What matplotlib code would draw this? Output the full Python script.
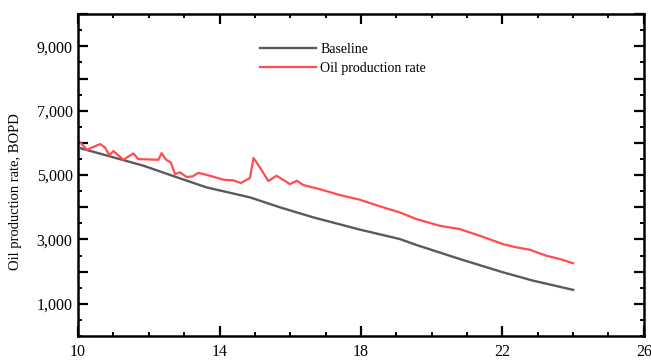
import numpy as np
import matplotlib
matplotlib.use("Agg")
import matplotlib.pyplot as plt
from matplotlib.ticker import MultipleLocator, FuncFormatter

plt.rcParams["font.family"] = "serif"
plt.rcParams["font.serif"] = ["Liberation Serif", "DejaVu Serif"]

# baseline curve (time vs rate)
base_x = [10.08, 10.9, 11.85, 12.88, 13.63, 14.86, 15.71, 16.65, 17.97,
          19.1, 19.57, 20.79, 22.01, 22.86, 24.0]
base_y = [5830, 5580, 5290, 4898, 4618, 4307, 3997, 3686, 3305,
          3012, 2827, 2393, 1981, 1721, 1433]

# oil production rate curve
oil_x = [10.06, 10.25, 10.62, 10.76, 10.88, 11.0, 11.28, 11.56, 11.70, 12.27,
         12.36, 12.49, 12.62, 12.74, 12.88, 13.07, 13.24, 13.4, 13.73, 14.11,
         14.39, 14.6, 14.86, 14.96, 15.14, 15.38, 15.61, 15.99, 16.19,
         16.37, 16.84, 17.40, 17.97, 18.53, 19.1, 19.57, 20.23, 20.79, 21.36,
         22.01, 22.39, 22.77, 23.24, 23.62, 24.0]
oil_y = [6015, 5786, 5963, 5860, 5621, 5745, 5475, 5674, 5497, 5475,
         5683, 5475, 5394, 5031, 5084, 4940, 4960, 5070, 4979, 4855,
         4835, 4752, 4910, 5530, 5239, 4814, 4979, 4720, 4823,
         4689, 4560, 4380, 4233, 4030, 3838, 3632, 3424, 3322, 3115,
         2857, 2755, 2681, 2495, 2393, 2260]

x_ticks = [10, 14, 18, 22, 26]

fig = plt.figure(figsize=(6.51, 3.6), dpi=100)
ax = fig.add_axes([0.12, 0.0667, 0.869, 0.894])

ax.plot(base_x, base_y, color="#5a5a5a", linewidth=1.7, label="Baseline")
ax.plot(oil_x, oil_y, color="#ff4d4d", linewidth=1.6, label="Oil production rate")

ax.set_xlim(10, 26)
ax.set_ylim(0, 10000)
ax.set_xticks(x_ticks)
ax.set_xticks([12, 16, 20, 24] + list(range(11, 26, 2)), minor=True)
ax.set_yticks(range(1000, 10001, 1000))
ax.yaxis.set_minor_locator(MultipleLocator(500))
ax.yaxis.set_major_formatter(FuncFormatter(
    lambda v, p: f"{int(v):,}" if int(v) % 2000 == 1000 else ""))

ax.tick_params(which="major", direction="in", length=7, width=1.6,
               top=True, right=True, labelsize=11.5)
ax.tick_params(which="minor", direction="in", length=3, width=1.4,
               top=True, right=True)
ax.tick_params(axis="x", which="major", pad=6)
ax.tick_params(axis="y", which="major", pad=4)
for s in ax.spines.values():
    s.set_linewidth(1.8)

ax.set_ylabel("Oil production rate, BOPD", fontsize=10.5)
ax.yaxis.set_label_coords(-0.1, 0.45)

leg = ax.legend(loc="upper left", bbox_to_anchor=(0.3, 0.95), frameon=False,
                fontsize=10, handlelength=4.0, handletextpad=0.3,
                labelspacing=0.45)

fig.savefig("out.png", dpi=100)
